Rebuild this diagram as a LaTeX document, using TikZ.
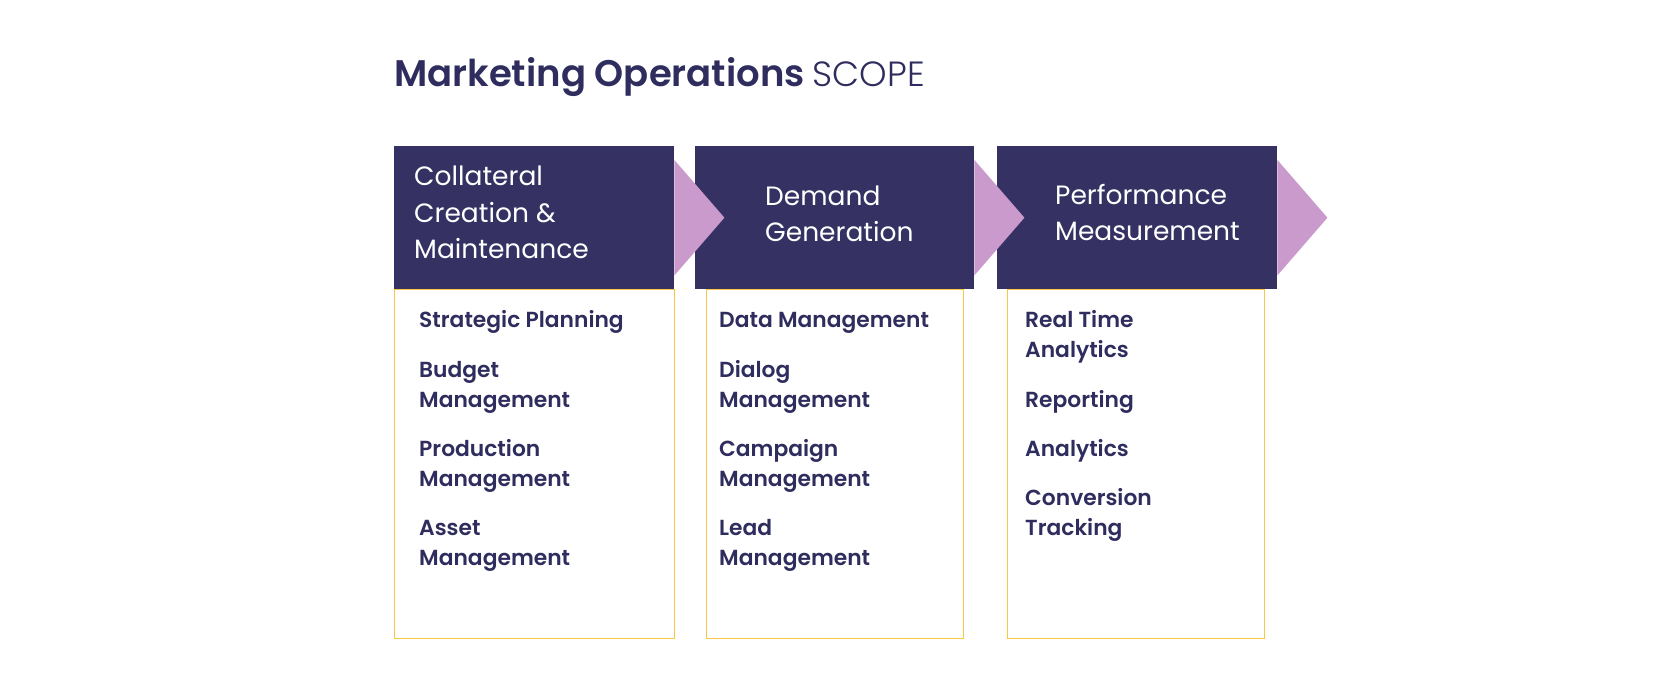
\documentclass[tikz,border=0pt]{standalone}
\usepackage{fontspec}
\setmainfont{Poppins}
\newfontfamily\popsemi{Poppins SemiBold}
\newfontfamily\poplight{Poppins Light}
\definecolor{navy}{HTML}{353263}
\definecolor{txtc}{HTML}{2F2C5E}
\definecolor{arrowc}{HTML}{C99ACB}
\definecolor{yell}{HTML}{F9C744}
\begin{document}
\begin{tikzpicture}[x=1pt,y=-1pt,
  hbox/.style={fill=navy, draw=none, anchor=north west, inner sep=0pt, minimum height=143pt},
  lbox/.style={draw=yell, line width=1pt, fill=white, anchor=north west, inner sep=0pt, minimum height=348.5pt},
  htext/.style={anchor=base west, inner sep=0pt, text=white, align=left, font=\fontsize{26.5}{36.5}\selectfont},
  itemtext/.style={anchor=base west, inner sep=0pt, text=txtc, align=left, font=\fontsize{21.8}{30}\popsemi},
  chevron/.style={fill=arrowc, draw=none}]
\useasboundingbox (0,0) rectangle (1680,700);
\fill[white] (0,0) rectangle (1680,700);
% title
\node[anchor=base west, inner sep=0pt, text=txtc, font=\fontsize{37}{46}\selectfont] (title) at (394,87) {{\popsemi Marketing Operations}\hspace{0.22em}{\poplight\fontsize{35}{46}\selectfont SCOPE}};
% lower boxes
\node[lbox, minimum width=280pt] (l1) at (394,289) {};
\node[lbox, minimum width=257pt] (l2) at (706,289) {};
\node[lbox, minimum width=257pt] (l3) at (1007,289) {};
% header boxes
\node[hbox, minimum width=280pt] (h1) at (394,146) {};
\node[hbox, minimum width=279pt] (h2) at (695,146) {};
\node[hbox, minimum width=280pt] (h3) at (997,146) {};
% chevrons
\foreach \h in {h1,h2,h3}{
  \fill[chevron] ([yshift=-14pt]\h.north east) -- ([xshift=50pt]\h.east) -- ([yshift=14pt]\h.south east) -- cycle;
}
% header texts (base = last line)
\node[htext] (t1) at (414,259) {Collateral\\Creation \&\\Maintenance};
\node[htext] (t2) at (765,242) {Demand\\Generation};
\node[htext] (t3) at (1055,241) {Performance\\Measurement};
% column 1
\node[itemtext] (a1) at (419,327.7) {Strategic Planning};
\node[itemtext] (a2) at (419,407) {Budget\\Management};
\node[itemtext] (a3) at (419,486) {Production\\Management};
\node[itemtext] (a4) at (419,565) {Asset\\Management};
% column 2
\node[itemtext] (b1) at (719,327.7) {Data Management};
\node[itemtext] (b2) at (719,407) {Dialog\\Management};
\node[itemtext] (b3) at (719,486) {Campaign\\Management};
\node[itemtext] (b4) at (719,565) {Lead\\Management};
% column 3
\node[itemtext] (c1) at (1025,357.7) {Real Time\\Analytics};
\node[itemtext] (c2) at (1025,407) {Reporting};
\node[itemtext] (c3) at (1025,456) {Analytics};
\node[itemtext] (c4) at (1025,535) {Conversion\\Tracking};
\end{tikzpicture}
\end{document}
